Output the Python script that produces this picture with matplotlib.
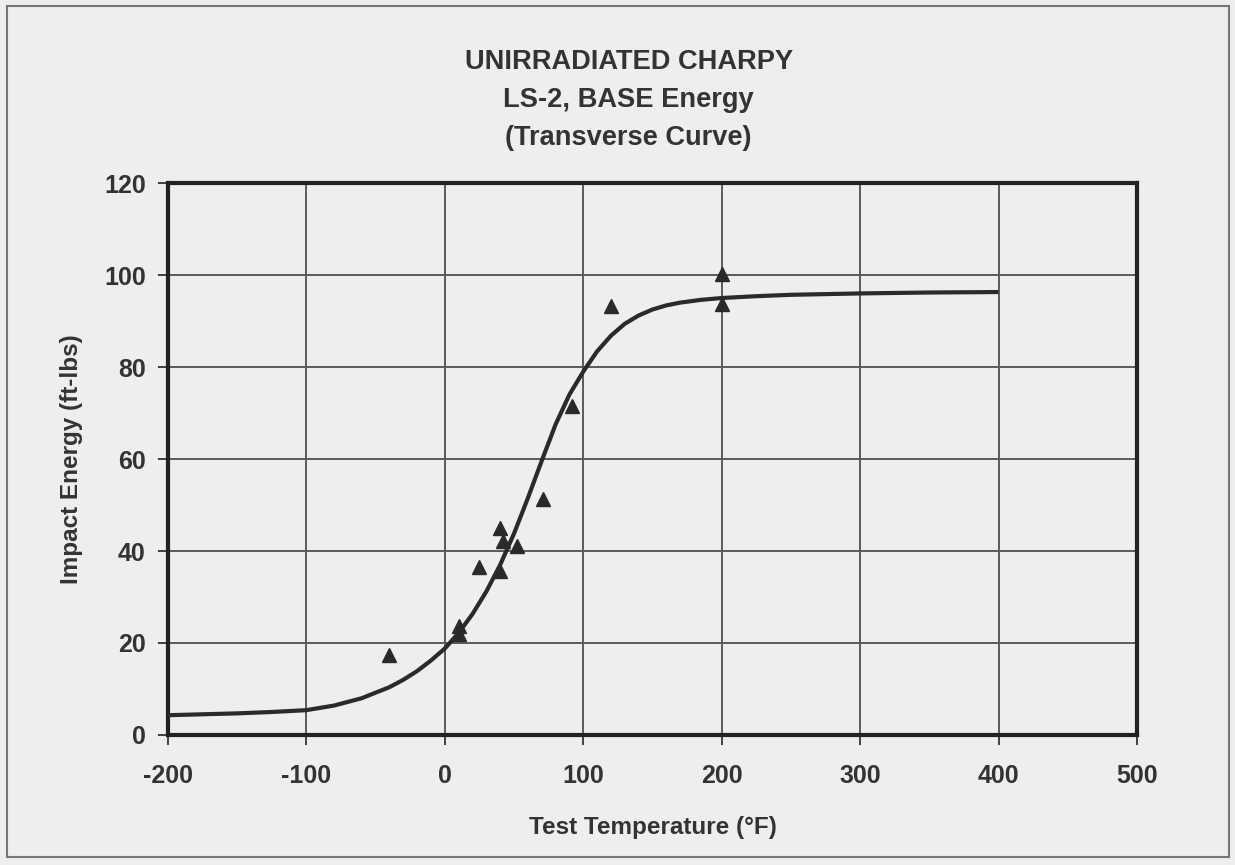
import matplotlib
matplotlib.use("Agg")
import matplotlib.pyplot as plt
from matplotlib.patches import Rectangle

# Measured Charpy data (temperature F, energy ft-lbs)
test_temp = [-40, 10, 10, 25, 40, 42, 40, 52, 71, 92, 120, 200, 200]
impact_energy = [17.4, 23.8, 22.0, 36.5, 45.0, 42.2, 35.6, 41.0, 51.2, 71.5, 93.2, 100.2, 93.6]

# Fitted transition curve
curve_temp = [-200, -175, -150, -125, -100, -80, -60, -40, -30, -20, -10, 0, 10, 20, 30, 40,
              50, 60, 70, 80, 90, 100, 110, 120, 130, 140, 150, 160, 170, 185, 200, 225,
              250, 300, 350, 400]
curve_energy = [4.3, 4.5, 4.7, 5.0, 5.4, 6.4, 8.0, 10.4, 12.0, 13.9, 16.2, 18.8, 22.2, 26.3, 31.2, 37.0,
                43.8, 51.5, 59.6, 67.5, 74.0, 79.0, 83.4, 86.8, 89.4, 91.2, 92.5, 93.4, 94.0, 94.6, 95.0, 95.4,
                95.7, 96.0, 96.2, 96.3]

x_ticks = [-200, -100, 0, 100, 200, 300, 400, 500]
y_ticks = [0, 20, 40, 60, 80, 100, 120]

title_lines = ["UNIRRADIATED CHARPY", "LS-2, BASE Energy", "(Transverse Curve)"]
x_label = "Test Temperature (°F)"
y_label = "Impact Energy (ft-lbs)"

plt.rcParams['font.family'] = ['Liberation Sans', 'DejaVu Sans']

bg = '#eeeeee'
txt = '#333333'
fig = plt.figure(figsize=(12.35, 8.65), dpi=100, facecolor=bg)
fig.patches.append(Rectangle((0.006, 0.009), 0.989, 0.984, transform=fig.transFigure,
                             fill=False, edgecolor='#777777', linewidth=1.5))

ax = fig.add_axes([0.136, 0.1503, 0.7846, 0.6381])
ax.set_facecolor(bg)

ax.plot(curve_temp, curve_energy, color='#2a2a2a', linewidth=3.0, zorder=3,
        solid_joinstyle='round', solid_capstyle='butt')
ax.plot(test_temp, impact_energy, linestyle='none', marker='^', markersize=10,
        color='#2a2a2a', zorder=4)

ax.set_xlim(-200, 500)
ax.set_ylim(0, 120)
ax.set_xticks(x_ticks)
ax.set_yticks(y_ticks)
ax.set_xticklabels([str(v) for v in x_ticks])
ax.set_yticklabels([str(v) for v in y_ticks])
ax.grid(True, color='#5a5a5a', linewidth=1.4)
ax.set_axisbelow(True)
for s in ax.spines.values():
    s.set_linewidth(3.0)
    s.set_color('#222222')
ax.tick_params(axis='both', direction='out', length=7, width=1.2, colors='#222222',
               labelsize=18)
ax.tick_params(axis='x', pad=14)
ax.tick_params(axis='y', pad=9)
for lbl in ax.get_xticklabels() + ax.get_yticklabels():
    lbl.set_fontweight('bold')
    lbl.set_color(txt)

ax.set_xlabel(x_label, fontsize=17.5, fontweight='bold', color=txt, labelpad=20)
ax.set_ylabel(y_label, fontsize=17.5, fontweight='bold', color=txt, labelpad=15)

for yy, line in zip([0.928, 0.884, 0.841], title_lines):
    fig.text(0.509, yy, line, ha='center', va='center', fontsize=19.6,
             fontweight='bold', color=txt)

fig.savefig('out.png', dpi=100, facecolor=bg)
